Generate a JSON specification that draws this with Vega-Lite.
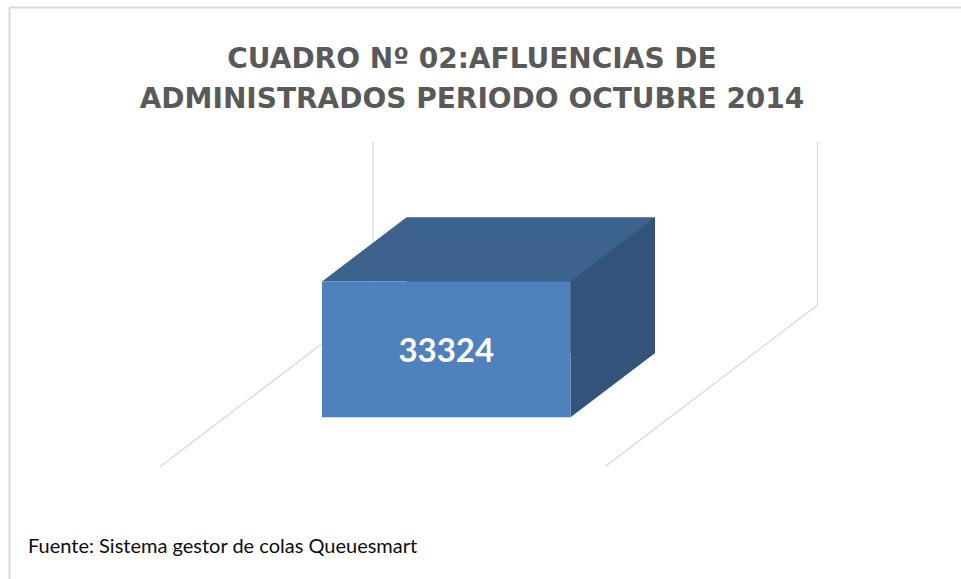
{
  "$schema": "https://vega.github.io/schema/vega-lite/v6.json",
  "width": 952,
  "height": 572,
  "autosize": "none",
  "padding": {"left": 9, "top": 7, "right": 0, "bottom": 0},
  "background": "#FFFFFF",
  "title": {
    "text": ["CUADRO Nº 02:AFLUENCIAS DE", "ADMINISTRADOS PERIODO OCTUBRE 2014"],
    "orient": "top",
    "anchor": "middle",
    "frame": "group",
    "offset": -129,
    "dx": -13,
    "font": "DejaVu Sans",
    "fontSize": 28,
    "fontWeight": "bold",
    "color": "#595959",
    "lineHeight": 40.5,
    "baseline": "alphabetic"
  },
  "data": {"values": [{"periodo": "Octubre 2014", "afluencia": 33324}]},
  "resolve": {"axis": {"x": "independent", "y": "independent"}},
  "config": {
    "view": {"stroke": null},
    "axis": {"ticks": false, "labels": false, "grid": false, "domain": false}
  },
  "layer": [
    {
      "mark": {"type": "rule", "color": "#D9D9D9", "strokeWidth": 1.25, "xOffset": -97},
      "encoding": {
        "x": {
          "field": "periodo", "type": "nominal", "bandPosition": 0,
          "scale": {"type": "band", "paddingInner": 0.29353, "paddingOuter": 1, "align": 0.6553},
          "axis": {"orient": "top", "domain": true, "domainColor": "#D9D9D9", "domainWidth": 2, "title": null}
        },
        "y": {
          "datum": 0, "type": "quantitative",
          "scale": {"domain": [-67239, 73129], "nice": false, "zero": false},
          "axis": null
        },
        "y2": {"datum": 40000}
      }
    },
    {
      "mark": {"type": "rule", "color": "#D9D9D9", "strokeWidth": 1.25, "xOffset": 99},
      "encoding": {
        "x": {"field": "periodo", "type": "nominal", "bandPosition": 1, "axis": null},
        "y": {"datum": 0, "type": "quantitative", "axis": null},
        "y2": {"datum": 40000}
      }
    },
    {
      "mark": {"type": "rule", "color": "#D9D9D9", "strokeWidth": 1.25, "xOffset": -97, "x2Offset": -310, "y2Offset": 161.7},
      "encoding": {
        "x": {"field": "periodo", "type": "nominal", "bandPosition": 0, "axis": null},
        "x2": {"field": "periodo", "bandPosition": 0},
        "y": {"datum": 0, "type": "quantitative", "axis": null},
        "y2": {"datum": 0}
      }
    },
    {
      "mark": {"type": "rule", "color": "#D9D9D9", "strokeWidth": 1.25, "xOffset": 99, "x2Offset": -113.5, "y2Offset": 161.7},
      "encoding": {
        "x": {"field": "periodo", "type": "nominal", "bandPosition": 1, "axis": null},
        "x2": {"field": "periodo", "bandPosition": 1},
        "y": {"datum": 0, "type": "quantitative", "axis": null},
        "y2": {"datum": 0}
      }
    },
    {
      "mark": {"type": "bar", "color": "#33537A", "xOffset": -63.5, "yOffset": 48.3, "y2Offset": 48.3},
      "encoding": {
        "x": {"field": "periodo", "type": "nominal", "axis": null},
        "y": {
          "field": "afluencia", "type": "quantitative",
          "axis": {"orient": "left", "domain": true, "domainColor": "#D9D9D9", "domainWidth": 2, "title": null}
        }
      }
    },
    {
      "mark": {"type": "point", "filled": true, "opacity": 1, "color": "#33537A", "strokeWidth": 0, "size": 4,
               "shape": "M124.25,0L124.25,-66L208.55,-66L208.55,-64Z", "xOffset": -148, "yOffset": 112.3},
      "encoding": {
        "x": {"field": "periodo", "type": "nominal", "axis": null},
        "y": {"datum": 0, "type": "quantitative", "axis": null}
      }
    },
    {
      "mark": {"type": "point", "filled": true, "opacity": 1, "color": "#3C628E", "strokeWidth": 0, "size": 4,
               "shape": "M-124.25,0L124.25,0L208.55,-64L-40.05,-64Z", "xOffset": -148, "yOffset": 112.3},
      "encoding": {
        "x": {"field": "periodo", "type": "nominal", "axis": null},
        "y": {"field": "afluencia", "type": "quantitative", "axis": null}
      }
    },
    {
      "mark": {"type": "bar", "color": "#4F81BD", "xOffset": -148, "yOffset": 112.3, "y2Offset": 112.3},
      "encoding": {
        "x": {"field": "periodo", "type": "nominal", "axis": null},
        "y": {"field": "afluencia", "type": "quantitative", "axis": null}
      }
    },
    {
      "mark": {"type": "text", "font": "Lato", "fontSize": 33, "fontWeight": "bold", "color": "#FFFFFF",
               "align": "center", "baseline": "middle", "xOffset": -148, "yOffset": 183.2},
      "encoding": {
        "x": {
          "field": "periodo", "type": "nominal",
          "axis": {
            "orient": "bottom",
            "title": "Fuente: Sistema gestor de colas Queuesmart",
            "titleAnchor": "start", "titleAlign": "left", "titleBaseline": "alphabetic",
            "titleX": 18.5, "titleY": -27,
            "titleFont": "Lato", "titleFontSize": 20, "titleFontWeight": "normal", "titleColor": "#0D0D0D"
          }
        },
        "y": {"field": "afluencia", "type": "quantitative", "axis": null},
        "text": {"field": "afluencia", "type": "quantitative", "format": "d"}
      }
    }
  ]
}
